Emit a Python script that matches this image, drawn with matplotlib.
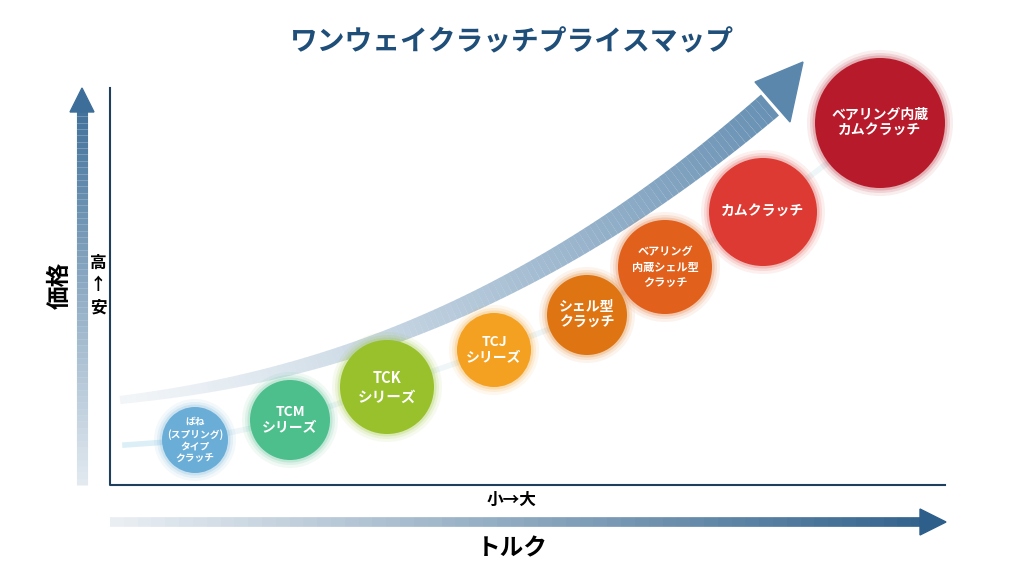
import matplotlib
matplotlib.use("Agg")
import matplotlib.pyplot as plt
import numpy as np
from matplotlib.patches import Circle, Polygon

plt.rcParams['font.family'] = ['Noto Sans CJK JP', 'DejaVu Sans']

labels = ["ばね\n(スプリング)\nタイプ\nクラッチ", "TCM\nシリーズ", "TCK\nシリーズ", "TCJ\nシリーズ",
          "シェル型\nクラッチ", "ベアリング\n内蔵シェル型\nクラッチ", "カムクラッチ", "ベアリング内蔵\nカムクラッチ"]
torque = [195, 290, 387, 494, 587, 665, 763, 880]
price = [440, 420, 387, 350, 315, 267, 212, 123]
sizes = [33, 40, 47, 37, 40, 47, 54, 65]
colors = ["#6aaed8", "#4dbf8c", "#98c12c", "#f4a020", "#de7512", "#e0601c", "#dc3a32", "#b71b2b"]
fsizes = [7, 10, 10.5, 10, 10, 8, 10, 10]

fig = plt.figure(figsize=(10.24, 5.72), dpi=100)
ax = fig.add_axes([0, 0, 1, 1])
ax.set_xlim(0, 1024); ax.set_ylim(572, 0); ax.axis('off')

# left gradient arrow
n = 60
ys = np.linspace(485, 110, n)
for i in range(n - 1):
    a = 0.15 + 0.85 * i / n
    ax.plot([82, 82], [ys[i], ys[i + 1]], color="#3d6e99", alpha=a, lw=8, solid_capstyle='butt')
ax.add_patch(Polygon([[70, 112], [94, 112], [82, 88]], color="#3d6e99"))
# bottom gradient arrow
xs = np.linspace(110, 925, n)
for i in range(n - 1):
    a = 0.1 + 0.9 * i / n
    ax.plot([xs[i], xs[i + 1]], [522, 522], color="#2d5f8a", alpha=a, lw=7, solid_capstyle='butt')
ax.add_patch(Polygon([[920, 509], [920, 535], [946, 522]], color="#2d5f8a"))

# axes lines
ax.plot([110, 110, 945], [88, 485, 485], color="#1f3f5e", lw=1.5)

# curved arrow
t = np.linspace(0, 1, 120)
cx = 120 + t * 650
cy = 400 - 75 * t - 220 * t ** 2.2
for i in range(len(t) - 1):
    w = 6 + 14 * t[i]
    ax.plot(cx[i:i + 2], cy[i:i + 2], color="#5b87ad", alpha=0.08 + 0.85 * t[i] ** 1.3, lw=w, solid_capstyle='butt')
ax.add_patch(Polygon([[755, 82], [790, 122], [803, 62]], color="#5b87ad"))

# connecting line
ax.plot(torque, price, color="#eef6f8", lw=4, zorder=2)
ax.plot([125, torque[0]], [445, price[0]], color="#dcefF6", lw=4, zorder=2)

for x, y, r, c, l, fs in zip(torque, price, sizes, colors, labels, fsizes):
    for k, al in [(8, 0.08), (5, 0.12), (2.5, 0.2)]:
        ax.add_patch(Circle((x, y), r + k, color=c, alpha=al, lw=0, zorder=3))
    ax.add_patch(Circle((x, y), r, color=c, lw=0, zorder=4))
    ax.text(x, y, l, ha='center', va='center', color='white', fontsize=fs,
            fontweight='bold', linespacing=1.2, zorder=5)

ax.text(512, 42, "ワンウェイクラッチプライスマップ", ha='center', va='center',
        fontsize=20, fontweight='bold', color="#1f4e79")
ax.text(60, 285, "価格", ha='center', va='center', rotation=90, fontsize=17, fontweight='bold')
ax.text(98, 285, "高\n↑\n安", ha='center', va='center', fontsize=12, fontweight='bold', linespacing=1.3)
ax.text(512, 500, "小→大", ha='center', va='center', fontsize=12, fontweight='bold')
ax.text(512, 548, "トルク", ha='center', va='center', fontsize=17, fontweight='bold')

fig.savefig("out.png", dpi=100)
